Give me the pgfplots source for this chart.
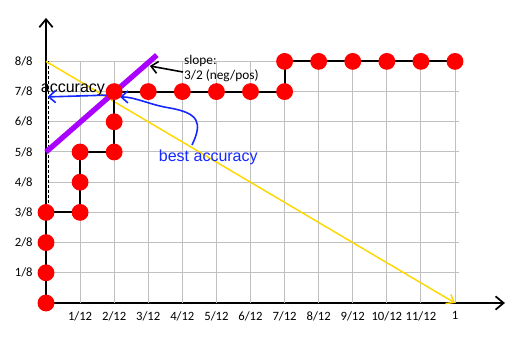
\documentclass[border=0pt]{standalone}
\usepackage{fontspec}
\setmainfont{Carlito}
\newfontfamily\arialf{Liberation Sans}
\usepackage{pgfplots}
\pgfplotsset{compat=1.18}
\usetikzlibrary{arrows.meta}
\definecolor{redpt}{RGB}{255,0,0}
\definecolor{purp}{RGB}{170,0,255}
\definecolor{yel}{RGB}{255,215,0}
\definecolor{bluearr}{RGB}{20,40,255}
\definecolor{gridg}{RGB}{192,192,192}
\begin{document}
\begin{tikzpicture}
\useasboundingbox (-34.5pt,-26.25pt) rectangle (356.25pt,227.25pt);
\begin{axis}[
  at={(0,0)}, anchor=south west,
  x=306.75pt, y=181.2pt,
  xmin=0, xmax=1.122, ymin=0, ymax=1.18,
  axis lines=left, clip=false,
  xtick={0.0833333,0.1666667,0.25,0.3333333,0.4166667,0.5,0.5833333,0.6666667,0.75,0.8333333,0.9166667,1},
  xticklabels={1/12,2/12,3/12,4/12,5/12,6/12,7/12,8/12,9/12,10/12,11/12,1},
  ytick={0.125,0.25,0.375,0.5,0.625,0.75,0.875,1},
  yticklabels={1/8,2/8,3/8,4/8,5/8,6/8,7/8,8/8},
  major tick length=0pt,
  /pgf/number format/assume math mode=true,
  tick label style={font=\fontsize{9.5}{11}\selectfont},
  xticklabel style={yshift=-3pt},
  yticklabel style={xshift=-6.5pt},
  x axis line style={line width=1.5pt, -{Straight Barb[length=6pt,width=10pt,line width=1.3pt]}},
  y axis line style={line width=0.9pt, -{Straight Barb[length=6pt,width=10pt,line width=1.3pt]}},
]
% grid
\pgfplotsinvokeforeach{1,...,12}{
  \draw[gridg, line width=0.75pt] (axis cs:#1/12,0) -- (axis cs:#1/12,1);
}
\pgfplotsinvokeforeach{1,...,8}{
  \draw[gridg, line width=0.75pt] (axis cs:0.004,#1/8) -- (axis cs:1.01,#1/8);
}
% dashed segment along the y axis
\draw[black, line width=0.7pt, dash pattern=on 2.2pt off 1.5pt] (axis cs:0.005,0.375) -- (axis cs:0.005,1.0);
% yellow diagonal
\addplot[yel, line width=1.1pt, -{Straight Barb[length=5pt,width=8pt,line width=1.1pt]}] coordinates {(0,1) (1,0)};
% purple iso-accuracy line
\addplot[purp, line width=4pt] coordinates {(0,0.625) (0.271,1.026)};
% ROC staircase
\addplot[black, line width=1.6pt, mark=*, mark size=5.5pt,
  mark options={fill=redpt, draw=redpt, solid}] coordinates {
  (0,0) (0,0.125) (0,0.25) (0,0.375)
  (0.0833333,0.375) (0.0833333,0.5) (0.0833333,0.625)
  (0.1666667,0.625) (0.1666667,0.75) (0.1666667,0.875)
  (0.25,0.875) (0.3333333,0.875) (0.4166667,0.875) (0.5,0.875) (0.5833333,0.875)
  (0.5833333,1) (0.6666667,1) (0.75,1) (0.8333333,1) (0.9166667,1) (1,1)
};
% annotations
\node[anchor=base west, inner sep=0pt, font=\arialf\fontsize{12}{14}\selectfont] at (axis cs:-0.013,0.872) {accuracy};
\node[anchor=base west, inner sep=0pt, text=bluearr, font=\arialf\fontsize{12}{14}\selectfont] at (axis cs:0.2755,0.585) {best accuracy};
\node[anchor=base west, inner sep=0pt, font=\fontsize{10}{12}\selectfont] at (axis cs:0.337,0.986) {slope:};
\node[anchor=base west, inner sep=0pt, font=\fontsize{10}{12}\selectfont] at (axis cs:0.337,0.923) {3/2 (neg/pos)};
\draw[black, line width=1.2pt, -{Straight Barb[length=5pt,width=9pt,line width=1.2pt]}] (axis cs:0.335,0.956) -- (axis cs:0.254,0.981);
\draw[bluearr, line width=1.2pt, -{Straight Barb[length=5pt,width=9pt,line width=1.2pt]}] (axis cs:0.161,0.861) -- (axis cs:0.004,0.853);
\draw[bluearr, line width=1.2pt, -{Straight Barb[length=5pt,width=9pt,line width=1.2pt]}]
  (axis cs:0.357,0.654) .. controls (axis cs:0.384,0.749) and (axis cs:0.372,0.786) .. (axis cs:0.303,0.807)
  .. controls (axis cs:0.254,0.820) and (axis cs:0.218,0.853) .. (axis cs:0.181,0.853);
\end{axis}
\end{tikzpicture}
\end{document}
